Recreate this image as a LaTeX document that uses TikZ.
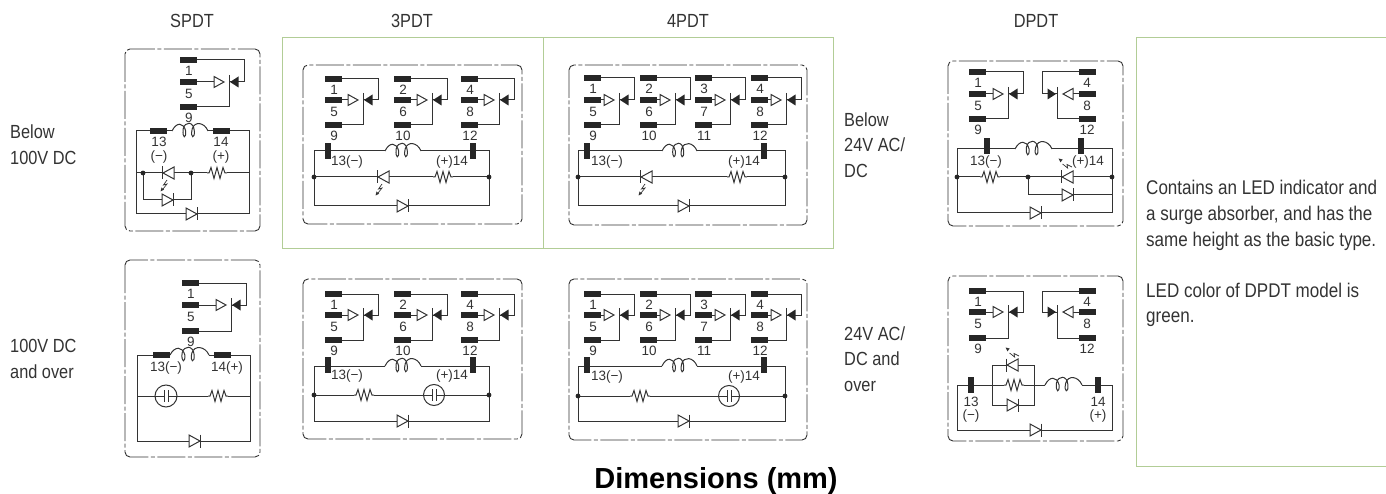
\documentclass[tikz,border=0pt]{standalone}
\usepackage{fontspec}
\setmainfont[FakeStretch=0.86]{Liberation Sans}
\newfontfamily\plainfont{Liberation Sans}
\tikzset{
 wire/.style={draw=wirecol,line width=1pt,line join=miter},
 frameline/.style={draw=wirecol,line width=0.9pt,rounded corners=5pt,dash pattern=on 28pt off 2.5pt on 4pt off 2.5pt},
 greenline/.style={draw=greencol,line width=1pt},
 lbl/.style={font=\plainfont\fontsize{13.5}{14}\selectfont,inner sep=0pt,text=labelcol},
 txt/.style={font=\fontsize{19}{25.7}\selectfont,inner sep=0pt,text=textcol,align=left,anchor=west},
 txtwide/.style={txt,font=\fontsize{19.8}{25.7}\selectfont},
 head/.style={font=\fontsize{19}{20}\selectfont,inner sep=0pt,text=textcol},
}
\definecolor{wirecol}{gray}{0.2}
\definecolor{labelcol}{gray}{0.2}
\definecolor{textcol}{gray}{0.2}
\definecolor{greencol}{RGB}{178,205,150}
\newcommand{\termH}[2]{\fill[black!85] (#1,#2-2.6) rectangle ++(17,5.2);}
\newcommand{\termV}[2]{\fill[black!85] (#1-2.6,#2-8) rectangle ++(5.2,16);}
\newcommand{\coil}[3]{%
 \pgfmathsetmacro{\cA}{#1}\pgfmathsetmacro{\cW}{(#2-#1)}%
 \draw[wire] (#1,#3) .. controls (\cA+0.12*\cW,#3-9) and (\cA+0.32*\cW,#3-9) .. (\cA+0.38*\cW,#3)
  .. controls (\cA+0.40*\cW,#3+8) and (\cA+0.28*\cW,#3+8) .. (\cA+0.31*\cW,#3-2)
  .. controls (\cA+0.36*\cW,#3-10) and (\cA+0.60*\cW,#3-10) .. (\cA+0.62*\cW,#3)
  .. controls (\cA+0.64*\cW,#3+8) and (\cA+0.50*\cW,#3+8) .. (\cA+0.56*\cW,#3-2)
  .. controls (\cA+0.62*\cW,#3-10) and (\cA+0.90*\cW,#3-9) .. (#2,#3);}
\newcommand{\resist}[2]{%
 \fill[white] (#1,#2-1) rectangle ++(20,2);
 \draw[wire] (#1,#2) -- ++(2,0) -- ++(2,-5.5) -- ++(3,11) -- ++(3,-11) -- ++(3,11) -- ++(3,-11) -- ++(2,5.5) -- ++(2,0);}
\newcommand{\dioR}[2]{%
 \draw[wire,fill=white] (#1,#2-6) -- (#1,#2+6) -- (#1+11,#2) -- cycle;
 \draw[wire] (#1+11.5,#2-6.5) -- (#1+11.5,#2+6.5);}
\newcommand{\dioL}[2]{%
 \draw[wire,fill=white] (#1+11,#2-6) -- (#1+11,#2+6) -- (#1,#2) -- cycle;
 \draw[wire] (#1-0.5,#2-6.5) -- (#1-0.5,#2+6.5);}
\newcommand{\flashDL}[2]{%
 \draw[wire,line width=0.7pt] (#1,#2) -- ++(-3.5,5) -- ++(3.5,-1) -- ++(-4,5);
 \fill[wirecol] (#1-6.5,#2+11.5) -- ++(1.0,-4) -- ++(2.6,2.2) -- cycle;}
\newcommand{\flashUL}[2]{%
 \draw[wire,line width=0.7pt] (#1,#2) -- ++(-5,-2.5) -- ++(0.6,3.5) -- ++(-5,-4);
 \fill[wirecol] (#1-13.5,#2-8.5) -- ++(4.2,1) -- ++(-2.2,2.8) -- cycle;}
\newcommand{\capa}[3]{%
 \draw[wire,fill=white] (#1,#2) circle (#3);
 \fill[white] (#1-2,#2-4) rectangle (#1+2,#2+4);
 \draw[wire] (#1-2,#2-6) -- (#1-2,#2+6) (#1+2,#2-6) -- (#1+2,#2+6);
 \draw[wire] (#1-#3,#2) -- (#1-2,#2) (#1+2,#2) -- (#1+#3,#2);}
\newcommand{\dotj}[2]{\fill[black!85] (#1,#2) circle (2.4);}
\newcommand{\contact}[8]{%
 \pgfmathsetmacro{\vx}{#1+#5-15}\pgfmathsetmacro{\rx}{#1+#5}%
 \pgfmathsetmacro{\tx}{#1+#5-15+1}\pgfmathsetmacro{\ox}{#1+#5-30}\pgfmathsetmacro{\lx}{#1+9}%
 \draw[wire] (#1+17,#2) -- (\rx,#2) -- (\rx,#3) -- (\vx,#3);
 \draw[wire] (\vx,#3-7) -- (\vx,#4) -- (#1+17,#4);
 \fill[black!85] (\tx,#3) -- (\tx+8.5,#3-5.5) -- (\tx+8.5,#3+5.5) -- cycle;
 \draw[wire] (#1+17,#3) -- (\ox,#3);
 \draw[wire,fill=white] (\ox,#3-5.5) -- (\ox,#3+5.5) -- (\ox+10,#3) -- cycle;
 \termH{#1}{#2}\termH{#1}{#3}\termH{#1}{#4}
 \node[lbl] at (\lx,#2+11) {#6};
 \node[lbl] at (\lx,#3+11.5) {#7};
 \node[lbl] at (\lx,#4+10.5) {#8};}
\newcommand{\contactM}[7]{%
 \pgfmathsetmacro{\lx}{#1+8}%
 \draw[wire] (#1,#2) -- (#1-37,#2) -- (#1-37,#3) -- (#1-22,#3);
 \draw[wire] (#1-22,#3-7) -- (#1-22,#4) -- (#1,#4);
 \fill[black!85] (#1-23,#3) -- (#1-31.5,#3-5.5) -- (#1-31.5,#3+5.5) -- cycle;
 \draw[wire] (#1,#3) -- (#1-6,#3);
 \draw[wire,fill=white] (#1-6,#3-5.5) -- (#1-6,#3+5.5) -- (#1-16,#3) -- cycle;
 \termH{#1}{#2}\termH{#1}{#3}\termH{#1}{#4}
 \node[lbl] at (\lx,#2+11) {#5};
 \node[lbl] at (\lx,#3+11.5) {#6};
 \node[lbl] at (\lx,#4+10.5) {#7};}
\begin{document}
\begin{tikzpicture}[x=1pt,y=-1pt]
\useasboundingbox (0,0) rectangle (1386,494);
\draw[greenline] (282,38) rectangle (543,249);
\draw[greenline] (543,38) rectangle (833,249);
\draw[greenline] (1386,38) -- (1136,38) -- (1136,466) -- (1386,466);
\node[head] (hA) at (192,21) {SPDT};
\node[head] (hB) at (412,21) {3PDT};
\node[head] (hC) at (688,21) {4PDT};
\node[head] (hD) at (1036,21) {DPDT};
\node[txt] (sA) at (10,145) {Below\\100V DC};
\node[txt] (sB) at (10,359) {100V DC\\and over};
\node[txt] (sC) at (844,145) {Below\\24V AC/\\DC};
\node[txt] (sD) at (844,359) {24V AC/\\DC and\\over};
\node[txtwide] (sE) at (1146,215.5) {Contains an LED indicator and\\a surge absorber, and has the\\same height as the basic type.};
\node[txtwide] (sF) at (1146,305) {LED color of DPDT model is\\green.};
\node[inner sep=0pt] (title) at (716,481) {\plainfont\bfseries\fontsize{29}{32}\selectfont Dimensions (mm)};
%%%%% SPDT top
\draw[frameline] (125,49) rectangle (260,231);
\contact{180}{60}{82}{107}{64}{1}{5}{9}
\draw[wire] (136,214) -- (136,131) -- (172,131);
\draw[wire] (208,131) -- (249,131) -- (249,214) -- (136,214);
\coil{172}{208}{131}
\termH{150}{131}\termH{213}{131}
\node[lbl] at (159,142) {13};\node[lbl] at (159,157) {(−)};
\node[lbl] at (221,142) {14};\node[lbl] at (221,157) {(+)};
\draw[wire] (136,173) -- (249,173);
\draw[wire] (143,173) -- (143,200) -- (191,200) -- (191,173);
\dotj{143}{173}\dotj{191}{173}
\dioL{163}{173}\dioR{162}{200}\resist{207}{173}\dioR{186}{214}
\flashDL{167}{180}
%%%%% SPDT bottom
\draw[frameline] (125,260) rectangle (260,457);
\contact{182}{283}{305}{331}{64}{1}{5}{9}
\draw[wire] (137,441) -- (137,355) -- (170,355);
\draw[wire] (209,355) -- (250,355) -- (250,441) -- (137,441);
\coil{170}{209}{355}
\termH{153}{355}\termH{214}{355}
\node[lbl] at (166,368) {13(−)};\node[lbl] at (227,368) {14(+)};
\draw[wire] (137,396) -- (250,396);
\capa{166}{396}{11}\resist{208}{396}\dioR{189}{441}
%%%%% 3PDT top
\draw[frameline] (303,65) rectangle (522,224);
\contact{325}{79}{100}{125}{53}{1}{5}{9}
\contact{394}{79}{100}{125}{53}{2}{6}{10}
\contact{461}{79}{100}{125}{53}{4}{8}{12}
\draw[wire] (314,206) -- (314,151) -- (385,151);
\draw[wire] (421,151) -- (489,151) -- (489,206) -- (314,206);
\coil{385}{421}{151}
\termV{328}{151}\termV{473}{151}
\node[lbl] at (347,162) {13(−)};\node[lbl] at (452,162) {(+)14};
\draw[wire] (314,177) -- (489,177);
\dotj{314}{177}\dotj{489}{177}
\dioL{378}{177}\resist{433}{177}\dioR{397}{206}
\flashDL{382}{184}
%%%%% 3PDT bottom
\draw[frameline] (303,279) rectangle (522,439);
\contact{325}{294}{315}{340}{53}{1}{5}{9}
\contact{394}{294}{315}{340}{53}{2}{6}{10}
\contact{461}{294}{315}{340}{53}{4}{8}{12}
\draw[wire] (314,421) -- (314,366) -- (385,366);
\draw[wire] (421,366) -- (489,366) -- (489,421) -- (314,421);
\coil{385}{421}{366}
\termV{328}{365}\termV{473}{365}
\node[lbl] at (347,376) {13(−)};\node[lbl] at (452,376) {(+)14};
\draw[wire] (314,395) -- (489,395);
\dotj{314}{395}\dotj{489}{395}
\resist{354}{395}\capa{434}{395}{10.5}\dioR{397}{421}
%%%%% 4PDT top
\draw[frameline] (569,65) rectangle (807,225);
\contact{584}{78}{100}{125}{50}{1}{5}{9}
\contact{640}{78}{100}{125}{50}{2}{6}{10}
\contact{695}{78}{100}{125}{50}{3}{7}{11}
\contact{751}{78}{100}{125}{50}{4}{8}{12}
\draw[wire] (578,206) -- (578,151) -- (662,151);
\draw[wire] (697,151) -- (785,151) -- (785,206) -- (578,206);
\coil{662}{697}{151}
\termV{587}{151}\termV{764}{151}
\node[lbl] at (607,162) {13(−)};\node[lbl] at (744,162) {(+)14};
\draw[wire] (578,177) -- (785,177);
\dotj{578}{177}\dotj{785}{177}
\dioL{641}{177}\resist{727}{177}\dioR{678}{206}
\flashDL{645}{184}
%%%%% 4PDT bottom
\draw[frameline] (569,279) rectangle (807,440);
\contact{584}{294}{315}{340}{50}{1}{5}{9}
\contact{640}{294}{315}{340}{50}{2}{6}{10}
\contact{695}{294}{315}{340}{50}{3}{7}{11}
\contact{751}{294}{315}{340}{50}{4}{8}{12}
\draw[wire] (578,421) -- (578,366) -- (662,366);
\draw[wire] (697,366) -- (785,366) -- (785,421) -- (578,421);
\coil{662}{697}{366}
\termV{587}{365}\termV{764}{365}
\node[lbl] at (607,377) {13(−)};\node[lbl] at (744,377) {(+)14};
\draw[wire] (578,396) -- (785,396);
\dotj{578}{396}\dotj{785}{396}
\resist{630}{396}\capa{729}{396}{10.5}\dioR{678}{421}
%%%%% DPDT top
\draw[frameline] (948,61) rectangle (1123,226);
\contact{969}{72}{94}{119}{54}{1}{5}{9}
\contactM{1079}{72}{94}{119}{4}{8}{12}
\draw[wire] (957,213) -- (957,149) -- (1015,149);
\draw[wire] (1052,149) -- (1112,149) -- (1112,213) -- (957,213);
\coil{1015}{1052}{149}
\termV{987}{146}\termV{1081}{146}
\node[lbl] at (986,162) {13(−)};\node[lbl] at (1088,162) {(+)14};
\draw[wire] (957,177) -- (1112,177);
\draw[wire] (1028,177) -- (1028,195) -- (1112,195);
\dotj{957}{177}\dotj{1028}{177}\dotj{1112}{177}
\resist{980}{177}\dioL{1062}{177}\dioR{1062}{195}\dioR{1030}{213}
\flashUL{1072}{167}
%%%%% DPDT bottom
\draw[frameline] (948,276) rectangle (1123,441);
\contact{969}{291}{312}{338}{54}{1}{5}{9}
\contactM{1079}{291}{312}{338}{4}{8}{12}
\draw[wire] (1045,385) -- (957,385) -- (957,430) -- (1112,430) -- (1112,385) -- (1082,385);
\coil{1045}{1082}{385}
\termV{971}{385}\termV{1098}{385}
\node[lbl] at (971,402) {13};\node[lbl] at (971,416) {(−)};
\node[lbl] at (1098,402) {14};\node[lbl] at (1098,416) {(+)};
\draw[wire] (992,385) -- (992,365) -- (1034,365) -- (1034,405) -- (992,405) -- cycle;
\dioL{1007}{365}\resist{1004}{385}\dioR{1007}{405}\dioR{1030}{430}
\flashUL{1019}{356}
\end{tikzpicture}
\end{document}
